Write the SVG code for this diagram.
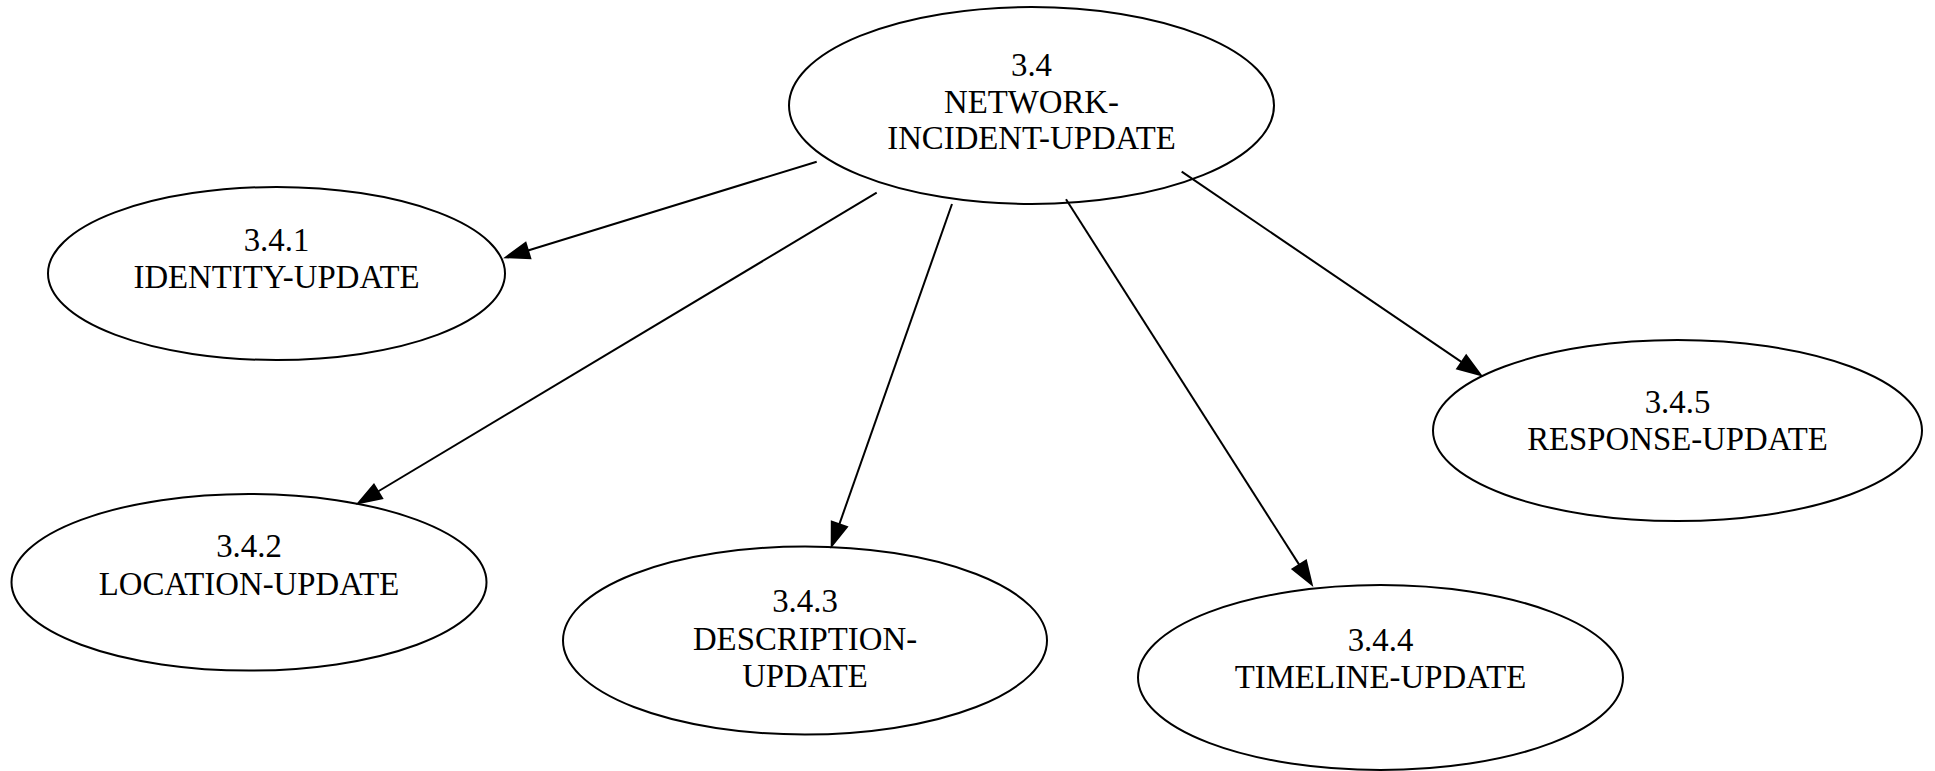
<svg xmlns="http://www.w3.org/2000/svg" width="1935" height="771" viewBox="0 0 1935 771">
<style>
.node ellipse{fill:none;stroke:#000;stroke-width:2}
.node text{font-family:"Liberation Serif","Times New Roman",serif;font-size:32.8px;fill:#000;text-anchor:middle}
.edge line{stroke:#000;stroke-width:2}
.edge polygon{fill:#000;stroke:#000;stroke-width:2}
</style>
<rect width="1935" height="771" fill="#fff"/>
<g id="n3_4" class="node">
<ellipse cx="1031.5" cy="105.5" rx="242.5" ry="98.5"/>
<text x="1031.5" y="75.5">3.4</text>
<text x="1031.5" y="112.5">NETWORK-</text>
<text x="1031.5" y="149">INCIDENT-UPDATE</text>
</g>
<g id="n3_4_1" class="node">
<ellipse cx="276.5" cy="273.5" rx="228.5" ry="86.5"/>
<text x="276.5" y="251">3.4.1</text>
<text x="276.5" y="288">IDENTITY-UPDATE</text>
</g>
<g id="n3_4_2" class="node">
<ellipse cx="249" cy="582.3" rx="237.5" ry="88.3"/>
<text x="249" y="557">3.4.2</text>
<text x="249" y="595">LOCATION-UPDATE</text>
</g>
<g id="n3_4_3" class="node">
<ellipse cx="805" cy="640.5" rx="242" ry="94"/>
<text x="805" y="611.5">3.4.3</text>
<text x="805" y="650">DESCRIPTION-</text>
<text x="805" y="687">UPDATE</text>
</g>
<g id="n3_4_4" class="node">
<ellipse cx="1380.5" cy="677.5" rx="242.5" ry="92.5"/>
<text x="1380.5" y="650.5">3.4.4</text>
<text x="1380.5" y="687.5">TIMELINE-UPDATE</text>
</g>
<g id="n3_4_5" class="node">
<ellipse cx="1677.5" cy="430.5" rx="244.5" ry="90.5"/>
<text x="1677.5" y="413">3.4.5</text>
<text x="1677.5" y="450">RESPONSE-UPDATE</text>
</g>
<g id="connectors" class="edge">
<line x1="816.7" y1="161.7" x2="528" y2="250.5"/>
<polygon points="530.3,258.2 525.6,242.9 506,257.3"/>
<line x1="876.7" y1="192.7" x2="378" y2="491.5"/>
<polygon points="382.1,498.3 373.9,484.6 358.3,503.3"/>
<line x1="952" y1="204" x2="839.3" y2="524.3"/>
<polygon points="846.9,527 831.8,521.6 831.7,546"/>
<line x1="1066" y1="199.3" x2="1299.3" y2="564.9"/>
<polygon points="1292.6,569.2 1306,560.6 1311.7,584.3"/>
<line x1="1181.7" y1="171.7" x2="1461.7" y2="362.1"/>
<polygon points="1457.2,368.7 1466.2,355.5 1480.7,375"/>
</g>
</svg>
